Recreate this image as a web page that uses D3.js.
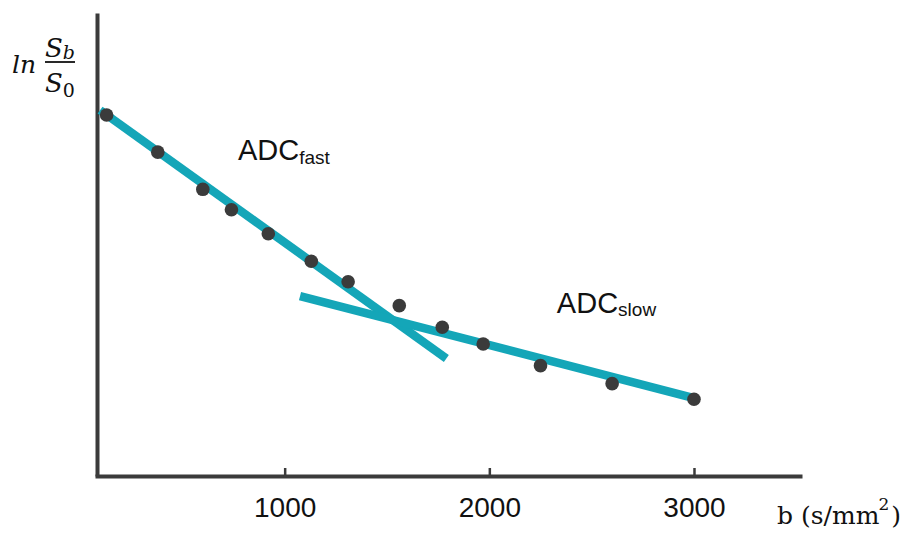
<!DOCTYPE html>
<html>
<head>
<meta charset="utf-8">
<script src="https://cdn.jsdelivr.net/npm/d3@7"></script>
<style>
  body { margin:0; background:#fff; }
  svg { display:block; }
  .tick text { font-family:"Liberation Sans", Arial, sans-serif; font-size:28px; fill:#111; }
  .note { font-family:"Liberation Sans", Arial, sans-serif; font-size:29px; fill:#111; }
  .math { font-family:"DejaVu Serif", serif; fill:#111; }
</style>
</head>
<body>
<svg></svg>
<script>
// measured points, b in s/mm2, ln(Sb/S0)
var bValues  = [130, 380, 600, 740, 920, 1130, 1310, 1560, 1770, 1970, 2250, 2600, 3000];
var lnValues = [-0.04, -0.35, -0.66, -0.83, -1.03, -1.26, -1.43, -1.63, -1.81, -1.95, -2.13, -2.28, -2.41];

// two fitted lines
var fastLineB  = [98, 1790];
var fastLineLn = [0.0, -2.07];
var slowLineB  = [1075, 3000];
var slowLineLn = [-1.55, -2.40];

var xTicks = [1000, 2000, 3000];

var screen = {width:912, height:536};
var teal = "#14a6b8";
var dark = "#3b3b3b";

var svg = d3.select("svg")
    .attr("width", screen.width)
    .attr("height", screen.height);

var xScale = d3.scaleLinear()
    .domain([83, 3518])
    .range([97, 800]);

var yScale = d3.scaleLinear()
    .domain([-3.05, 0.81])
    .range([476, 13]);

var drawAxes = function()
{
    var xAxis = d3.axisBottom(xScale)
        .tickValues(xTicks)
        .tickFormat(d3.format("d"))
        .tickSizeInner(-8)
        .tickSizeOuter(0)
        .tickPadding(21);

    var yAxis = d3.axisLeft(yScale)
        .tickValues([])
        .tickSizeOuter(0);

    var gx = svg.append("g")
        .attr("transform", "translate(0," + yScale.range()[0] + ")")
        .call(xAxis);
    gx.select(".domain")
        .attr("stroke", dark).attr("stroke-width", 4).attr("stroke-linecap", "square");
    gx.selectAll(".tick line")
        .attr("stroke", dark).attr("stroke-width", 2.5).attr("y2", 2)
        .attr("y1", -8);

    var gy = svg.append("g")
        .attr("transform", "translate(" + xScale.range()[0] + ",0)")
        .call(yAxis);
    gy.select(".domain")
        .attr("stroke", dark).attr("stroke-width", 4);
}

var drawLines = function()
{
    var line = d3.line()
        .x(function(d){ return xScale(d[0]); })
        .y(function(d){ return yScale(d[1]); });

    var fits = [d3.zip(fastLineB, fastLineLn), d3.zip(slowLineB, slowLineLn)];

    svg.append("g")
        .selectAll("path")
        .data(fits)
        .enter()
        .append("path")
        .attr("d", line)
        .attr("fill", "none")
        .attr("stroke", teal)
        .attr("stroke-width", 8.5)
        .attr("stroke-linecap", "butt");
}

var drawPoints = function()
{
    svg.append("g")
        .selectAll("circle")
        .data(d3.zip(bValues, lnValues))
        .enter()
        .append("circle")
        .attr("cx", function(d){ return xScale(d[0]); })
        .attr("cy", function(d){ return yScale(d[1]); })
        .attr("r", 6.8)
        .attr("fill", dark);
}

var drawLabels = function()
{
    // ADC annotations
    var fast = svg.append("text")
        .classed("note", true)
        .attr("x", xScale(772))
        .attr("y", yScale(-0.417));
    fast.append("tspan").text("ADC");
    fast.append("tspan").text("fast").attr("font-size", "19px").attr("dy", 4);

    var slow = svg.append("text")
        .classed("note", true)
        .attr("x", xScale(2330))
        .attr("y", yScale(-1.69));
    slow.append("tspan").text("ADC");
    slow.append("tspan").text("slow").attr("font-size", "19px").attr("dy", 3);

    // x axis title
    var xt = svg.append("text")
        .classed("math", true)
        .attr("font-size", "25px")
        .attr("x", 777)
        .attr("y", 524);
    xt.append("tspan").text("b (s/mm");
    xt.append("tspan").text("2").attr("font-size", "17px").attr("dy", -14).attr("dx", -1);
    xt.append("tspan").text(")").attr("dy", 14).attr("dx", 2);

    // y axis title: ln Sb/S0
    var yt = svg.append("g").classed("math", true);
    yt.append("text")
        .attr("x", 12).attr("y", 73)
        .attr("font-size", "25px")
        .attr("font-style", "italic")
        .text("ln");

    var num = yt.append("text")
        .attr("x", 45).attr("y", 57)
        .attr("font-size", "26px");
    num.append("tspan").text("S").attr("font-style", "italic");
    num.append("tspan").text("b").attr("font-style", "italic")
        .attr("font-size", "19px").attr("dy", 2);

    yt.append("line")
        .attr("x1", 45).attr("x2", 75)
        .attr("y1", 62).attr("y2", 62)
        .attr("stroke", "#111").attr("stroke-width", 1.8);

    var den = yt.append("text")
        .attr("x", 45).attr("y", 92)
        .attr("font-size", "26px");
    den.append("tspan").text("S").attr("font-style", "italic");
    den.append("tspan").text("0").attr("font-size", "19px").attr("dy", 5);
}

drawAxes();
drawLines();
drawPoints();
drawLabels();
</script>
</body>
</html>
